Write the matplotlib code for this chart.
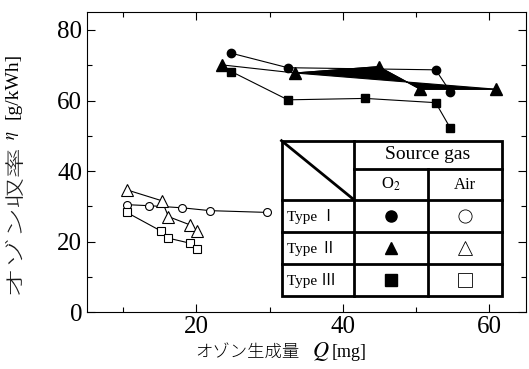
import matplotlib.pyplot as plt
import numpy as np
from matplotlib.textpath import TextPath
from matplotlib.font_manager import FontProperties
from matplotlib.patches import PathPatch
from matplotlib.transforms import Affine2D

plt.rcParams['font.family'] = ['Liberation Serif', 'Noto Sans CJK JP']
plt.rcParams['mathtext.fontset'] = 'stix'

# Type I (circle)
q_1_o2 = [24.8, 32.5, 52.7, 54.7]
eta_1_o2 = [73.4, 69.3, 68.7, 62.5]
q_1_air = [10.5, 13.6, 18.1, 21.9, 29.7]
eta_1_air = [30.5, 30.2, 29.6, 28.8, 28.3]
# Type II (triangle)
q_2_o2 = [23.5, 33.5, 44.9, 50.6, 61.0]
eta_2_o2 = [70.1, 67.8, 69.6, 63.2, 63.2]
q_2_air = [10.5, 15.3, 16.2, 19.1, 20.1]
eta_2_air = [34.7, 31.6, 27.1, 24.8, 22.9]
# Type III (square)
q_3_o2 = [24.8, 32.5, 43.1, 52.7, 54.7]
eta_3_o2 = [68.2, 60.2, 60.6, 59.4, 52.2]
q_3_air = [10.5, 15.2, 16.2, 19.1, 20.1]
eta_3_air = [28.3, 23.0, 21.0, 19.6, 17.8]

types = ['Type \u2160', 'Type \u2161', 'Type \u2162']
markers = ['o', '^', 's']
msizes = [6, 8.5, 6]

W, H = 529, 369
fig = plt.figure(figsize=(W / 100, H / 100), dpi=100)
ax = fig.add_axes([86.5 / W, 1 - 312.3 / H, 439.2 / W, 300 / H])

o2 = [(q_1_o2, eta_1_o2), (q_2_o2, eta_2_o2), (q_3_o2, eta_3_o2)]
air = [(q_1_air, eta_1_air), (q_2_air, eta_2_air), (q_3_air, eta_3_air)]
for (q, e), m, s in zip(o2, markers, msizes):
    ax.plot(q, e, '-', color='k', lw=0.8, marker=m, ms=s, mfc='k', mec='k')
for (q, e), m, s in zip(air, markers, msizes):
    ax.plot(q, e, '-', color='k', lw=0.8, marker=m, ms=s * 0.95, mfc='white', mec='k', mew=0.8)
# the O2 type II line is drawn filled in the original
ax.fill(q_2_o2[1:], eta_2_o2[1:], color='k', lw=0.8)

ax.set_xlim(5, 65)
ax.set_ylim(0, 85)
ax.set_xticks([20, 40, 60])
ax.set_xticks([10, 30, 50], minor=True)
ax.set_yticks([0, 20, 40, 60, 80])
ax.set_yticks([10, 30, 50, 70], minor=True)
ax.tick_params(which='both', direction='in', top=True, right=True, labelsize=18, width=0.8)
ax.tick_params(which='major', length=6)
ax.tick_params(which='minor', length=3.5)
ax.tick_params(axis='x', pad=3)
ax.tick_params(axis='y', pad=3)
for sp in ax.spines.values():
    sp.set_linewidth(0.8)

# legend table
xs = [0.444, 0.610, 0.778, 0.945]
ys = [0.572, 0.477, 0.374, 0.267, 0.161, 0.054]
tr = ax.transAxes
lw = 2
ax.add_patch(plt.Rectangle((xs[0], ys[5]), xs[3] - xs[0], ys[0] - ys[5], transform=tr,
                           facecolor='white', edgecolor='k', lw=lw, zorder=5))
def seg(x0, y0, x1, y1):
    ax.plot([x0, x1], [y0, y1], color='k', lw=lw, transform=tr, zorder=6, solid_capstyle='projecting')
seg(xs[1], ys[0], xs[1], ys[5])
seg(xs[2], ys[1], xs[2], ys[5])
seg(xs[1], ys[1], xs[3], ys[1])
for y in ys[2:5]:
    seg(xs[0], y, xs[3], y)
seg(xs[0], ys[0], xs[1], ys[2])

ax.text((xs[1] + xs[3]) / 2, (ys[0] + ys[1]) / 2, 'Source gas', transform=tr,
        ha='center', va='center', fontsize=14, zorder=7)
ax.text((xs[1] + xs[2]) / 2, (ys[1] + ys[2]) / 2, 'O$_2$', transform=tr,
        ha='center', va='center', fontsize=12, zorder=7)
ax.text((xs[2] + xs[3]) / 2, (ys[1] + ys[2]) / 2, 'Air', transform=tr,
        ha='center', va='center', fontsize=12, zorder=7)
for i, (t, m) in enumerate(zip(types, markers)):
    cy = (ys[2 + i] + ys[3 + i]) / 2
    ax.text(xs[0] + 0.012, cy, t, transform=tr, ha='left', va='center', fontsize=11, zorder=7)
    ax.plot([(xs[1] + xs[2]) / 2], [cy], marker=m, ms=8, color='k', transform=tr, zorder=7, clip_on=False)
    ax.plot([(xs[2] + xs[3]) / 2], [cy], marker=m, ms=9.5, mfc='white', mec='k', mew=0.6,
            transform=tr, zorder=7, clip_on=False)

# x label
fig.text(247.5 / W, 1 - 357 / H, 'オゾン生成量', ha='center', va='baseline', fontsize=12.5,
         family='Noto Sans CJK JP', weight='light')
fig.text(312 / W, 1 - 357 / H, '$Q$', ha='left', va='baseline', fontsize=16)
fig.text(332 / W, 1 - 357 / H, '[mg]', ha='left', va='baseline', fontsize=13)

# y label: the Japanese part is stretched along the text direction in the original
tp = TextPath((0, 0), 'オゾン収率', size=1, prop=FontProperties(family='Noto Sans CJK JP', weight='light'))
ext = tp.get_extents()
t = (Affine2D().translate(-ext.x0, -ext.y0)
     .scale(145 / ext.width, 18 / ext.height)
     .rotate_deg(90).translate(23, H - 295))
fig.add_artist(PathPatch(tp, transform=t, facecolor='#1a1a1a', lw=0))
fig.text(13 / W, 1 - 135 / H, r'$\eta$', rotation=90, ha='center', va='center', fontsize=12)
fig.text(13 / W, 1 - 85.5 / H, '[g/kWh]', rotation=90, ha='center', va='center', fontsize=14)

fig.savefig('out.png', dpi=100)
